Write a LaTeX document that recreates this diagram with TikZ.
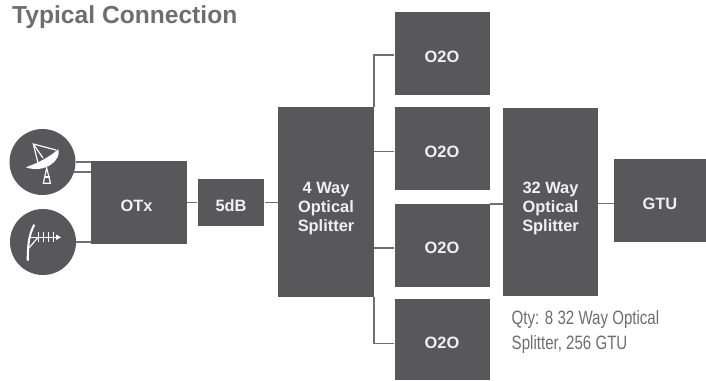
\documentclass[tikz,border=0pt]{standalone}
\usepackage{fontspec}
\usepackage{xcolor}
\setmainfont{Liberation Sans}
\newfontfamily\narrowfont[FakeStretch=0.78]{Liberation Sans}
\usetikzlibrary{positioning, calc}
\definecolor{blockgray}{RGB}{88, 88, 90}
\definecolor{linegray}{RGB}{112, 112, 112}
\definecolor{textgray}{RGB}{110, 110, 112}
\definecolor{labelwhite}{RGB}{240, 240, 240}

\begin{document}
\begin{tikzpicture}[x=0.03cm, y=-0.03cm,
  every node/.style={font=\fontsize{14}{16.2}\selectfont\bfseries},
  blockbox/.style={fill=blockgray, text=labelwhite, inner sep=0pt, align=center,
    text height=15.2pt, text depth=0pt},
  splitbox/.style={blockbox, text height=49.5pt},
  wirelink/.style={draw=linegray, line width=1.5pt},
  iconbit/.style={draw=white, line width=1pt}]
\useasboundingbox (0,0) rectangle (706,380);

% ── Title ───────────────────────────────────────────────────────
\node[anchor=base west, inner sep=0pt, text=textgray, font=\fontsize{21}{24}\selectfont\bfseries]
(title) at (12,23) {Typical Connection};

% ── Sources ─────────────────────────────────────────────────────
\node[circle, fill=blockgray, minimum size=1.98cm, inner sep=0pt] (dish) at (42.5,162) {};
\node[circle, fill=blockgray, minimum size=1.98cm, inner sep=0pt] (aerial) at (43,242) {};

% ── Main chain ──────────────────────────────────────────────────
\node[blockbox, minimum width=2.88cm, minimum height=2.49cm] (otx) at (139,202.5) {OTx\hspace{4pt}};
\node[blockbox, minimum width=2cm, minimum height=1.41cm] (pad) at (231,202.5) {5dB};
\node[splitbox, minimum width=2.86cm, minimum height=5.7cm] (splitfour) at (326,202) {4 Way\\Optical\\Splitter};

% ── O2O column ──────────────────────────────────────────────────
\node[blockbox, minimum width=2.85cm, minimum height=2.49cm] (ooa) at (442,53.5) {O2O};
\node[blockbox, minimum width=2.85cm, minimum height=2.49cm] (oob) at (442,148.5) {O2O};
\node[blockbox, minimum width=2.85cm, minimum height=2.49cm] (ooc) at (442,245) {O2O};
\node[blockbox, minimum width=2.85cm, minimum height=2.43cm] (ood) at (442,339.5) {O2O};

% ── Output side ─────────────────────────────────────────────────
\node[splitbox, minimum width=2.85cm, minimum height=5.64cm] (splitbig) at (550.5,202) {32 Way\\Optical\\Splitter};
\node[blockbox, minimum width=2.76cm, minimum height=2.49cm] (gtu) at (660,200.5) {GTU};
\node[anchor=west, inner sep=0pt, align=left, text=textgray,
font=\fontsize{16.5}{22}\narrowfont] (qty) at (511.5,332)
{Qty: 8 32 Way Optical\\Splitter, 256 GTU};

% ── Connectors ──────────────────────────────────────────────────
\draw[wirelink] (dish.east) -- (dish.east -| otx.west);
\draw[wirelink] (dish.-18) -- (dish.-18 -| otx.west);
\draw[wirelink] (aerial.east) -- (aerial.east -| otx.west);
\draw[wirelink] (otx.east) -- (pad.west);
\draw[wirelink] (pad.east) -- (pad.east -| splitfour.west);
\draw[wirelink] ([yshift=-0.05cm]ooa.west) -| (splitfour.north east);
\draw[wirelink] ([yshift=-0.09cm]oob.west) -- ([yshift=-0.09cm]oob.west -| splitfour.east);
\draw[wirelink] ([yshift=-0.09cm]ooc.west) -- ([yshift=-0.09cm]ooc.west -| splitfour.east);
\draw[wirelink] ([yshift=-0.12cm]ood.west) -| (splitfour.south east);
\draw[wirelink] ([yshift=-0.03cm]ooc.north east) -- ([yshift=-0.03cm]ooc.north east -| splitbig.west);
\draw[wirelink] ([yshift=-0.09cm]gtu.west) -- ([yshift=-0.09cm]gtu.west -| splitbig.east);

% ── Dish icon ───────────────────────────────────────────────────
\fill[white] (25.7,167.3) .. controls (38,163) and (50,157) .. (58.3,149)
.. controls (62,160) and (45,174) .. (25.7,167.3) -- cycle;
\draw[iconbit] (38,163) -- (33.3,144) -- (56,150);
\draw[iconbit] (33.3,144) -- (43,158);
\draw[iconbit] (46.7,168) -- (43.3,183.3) -- (50.5,183.3) -- cycle;
\draw[iconbit] (44.5,177) -- (49.5,177);

% ── Aerial icon ─────────────────────────────────────────────────
\draw[white, line width=1.8pt] (27.7,260.7) .. controls (28,248) and (28,236) .. (34.3,224.7);
\draw[iconbit] (29,237.3) -- (58,237.3);
\draw[iconbit] (29,248) -- (38,237.3);
\fill[white] (56,234.5) -- (61,237.3) -- (56,240) -- cycle;
\foreach \tickx in {38.3,43.3,48.3,53.3}
\draw[iconbit] (\tickx,232.3) -- (\tickx,242.3);

\end{tikzpicture}
\end{document}
